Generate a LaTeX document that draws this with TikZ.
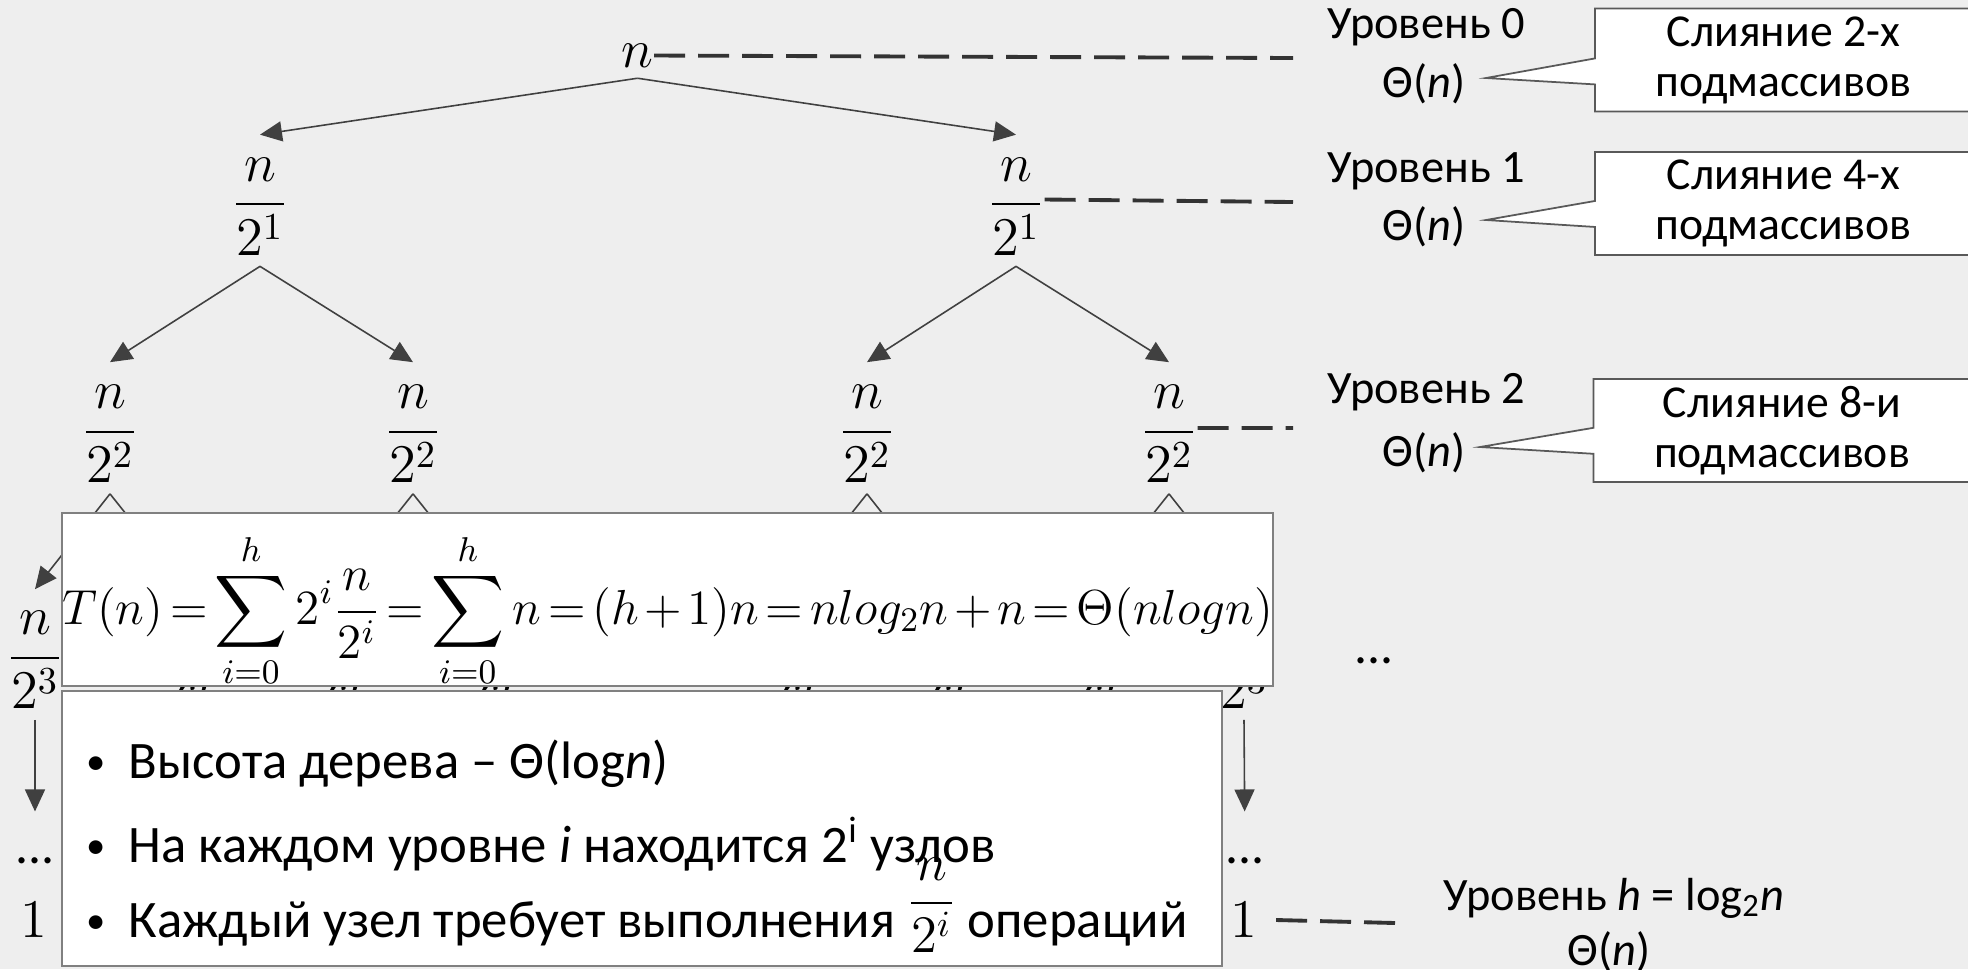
\RequirePackage{fix-cm}
\documentclass[tikz,border=0pt]{standalone}
\usepackage{amsmath}
\usepackage[no-math]{fontspec}
\newfontfamily\cfont{Carlito}
\usetikzlibrary{arrows.meta,positioning,shapes.callouts}
\definecolor{slidebg}{RGB}{238,238,238}
\definecolor{edgegray}{RGB}{64,64,64}
\definecolor{dashgray}{RGB}{51,51,51}
\definecolor{panelgray}{RGB}{128,128,128}
\definecolor{callgray}{RGB}{89,89,89}
\newcommand{\dotmark}{\makebox[0.51cm][l]{\hspace{0.09cm}\raisebox{0.04cm}{\fontsize{11}{11}\selectfont •}}}
\tikzset{
  frac/.style={inner sep=0pt, outer ysep=1.1mm, font=\fontsize{15.5}{18}\selectfont},
  treeedge/.style={-{Triangle[length=2.2mm,width=2mm]}, draw=edgegray, line width=0.45pt},
  levelline/.style={draw=dashgray, line width=1.1pt, dash pattern=on 3.1mm off 1.3mm},
  panel/.style={rectangle, draw=panelgray, fill=white, line width=0.6pt},
  lvl/.style={font=\cfont\fontsize{13.2}{16}\selectfont, inner sep=0pt, anchor=base},
  mergebox/.style={rectangle callout, draw=callgray, fill=white, line width=0.5pt,
                   callout pointer width=2.6mm, minimum width=3.77cm, minimum height=1.03cm,
                   inner ysep=0.3mm, align=center, font=\cfont\fontsize{13}{14.2}\selectfont},
  bullet/.style={font=\cfont\fontsize{15}{18}\selectfont, inner sep=0pt, anchor=base west},
  dotsnode/.style={font=\cfont\fontsize{14.7}{18}\selectfont, inner sep=0pt, anchor=base},
}

\begin{document}
\begin{tikzpicture}
\fill[slidebg] (0,0) rectangle (19.68,-9.69);
\useasboundingbox (0,0) rectangle (19.68,-9.69);

% recursion tree
\node[frac] (root) at (6.375,-0.555) {$n$};
\node[frac] (a1) at (2.60,-2.065) {$\dfrac{n}{2^1}$};
\node[frac] (a2) at (10.16,-2.065) {$\dfrac{n}{2^1}$};
\node[frac] (b1) at (1.10,-4.34) {$\dfrac{n}{2^2}$};
\node[frac] (b2) at (4.13,-4.34) {$\dfrac{n}{2^2}$};
\node[frac] (b3) at (8.67,-4.34) {$\dfrac{n}{2^2}$};
\node[frac] (b4) at (11.69,-4.34) {$\dfrac{n}{2^2}$};
\node[frac] (c1) at (0.35,-6.60) {$\dfrac{n}{2^3}$};
\node[frac] (c2) at (1.86,-6.60) {$\dfrac{n}{2^3}$};
\node[frac] (c3) at (3.37,-6.60) {$\dfrac{n}{2^3}$};
\node[frac] (c4) at (4.89,-6.60) {$\dfrac{n}{2^3}$};
\node[frac] (c5) at (7.91,-6.60) {$\dfrac{n}{2^3}$};
\node[frac] (c6) at (9.42,-6.60) {$\dfrac{n}{2^3}$};
\node[frac] (c7) at (10.93,-6.60) {$\dfrac{n}{2^3}$};
\node[frac] (c8) at (12.44,-6.60) {$\dfrac{n}{2^3}$};
\node[dotsnode] (d1) at (0.35,-8.63) {...};
\node[dotsnode] (d8) at (12.45,-8.63) {...};
\node[frac] (e1) at (0.34,-9.20) {$1$};
\node[frac] (e8) at (12.44,-9.20) {$1$};

\draw[treeedge] (root.south) -- ([yshift=1.2mm]a1.north);
\draw[treeedge] (root.south) -- ([yshift=1.2mm]a2.north);
\draw[treeedge] (a1.south) -- ([yshift=1.2mm]b1.north);
\draw[treeedge] (a1.south) -- ([yshift=1.2mm]b2.north);
\draw[treeedge] (a2.south) -- ([yshift=1.2mm]b3.north);
\draw[treeedge] (a2.south) -- ([yshift=1.2mm]b4.north);
\draw[treeedge] (b1.south) -- ([yshift=1.1mm]c1.north);
\draw[treeedge] (b1.south) -- ([yshift=1.1mm]c2.north);
\draw[treeedge] (b2.south) -- ([yshift=1.1mm]c3.north);
\draw[treeedge] (b2.south) -- ([yshift=1.1mm]c4.north);
\draw[treeedge] (b3.south) -- ([yshift=1.1mm]c5.north);
\draw[treeedge] (b3.south) -- ([yshift=1.1mm]c6.north);
\draw[treeedge] (b4.south) -- ([yshift=1.1mm]c7.north);
\draw[treeedge] (b4.south) -- ([yshift=1.1mm]c8.north);
\draw[treeedge, shorten >=4.5mm] (c1.south) -- (d1.north);
\draw[treeedge, shorten >=4.5mm] (c8.south) -- (d8.north);

% level guides
\coordinate (lvl0end) at (12.93,-0.58);
\coordinate (lvl1end) at (12.93,-2.02);
\coordinate (lvl2end) at (12.93,-4.28);
\coordinate (lvlhend) at (13.95,-9.23);
\draw[levelline] (root.east) -- (lvl0end);
\draw[levelline] ([yshift=0.7mm]a2.east) -- (lvl1end);
\draw[levelline] ([yshift=0.6mm]b4.east) -- (lvl2end);
\draw[levelline] ([xshift=1.8mm]e8.east) -- (lvlhend);

% sum over the levels
\node[panel, minimum width=12.11cm, minimum height=1.73cm] (fpanel) at (6.675,-5.995) {};
\node[inner sep=0pt, font=\fontsize{14}{17}\selectfont] (formula) at ([yshift=-1.1mm]fpanel.center)
  {\thickmuskip=2.5mu \medmuskip=2mu
   $\displaystyle T(n)=\sum_{i=0}^{h}2^{i}\frac{n}{2^{i}}=\sum_{i=0}^{h}n=(h+1)n=nlog_{2}n+n=\Theta(nlogn)$};

\node[panel, minimum width=11.60cm, minimum height=2.75cm] (bpanel) at (6.42,-8.285) {};
\node[bullet] (it1) at (0.77,-7.78) {\dotmark Высота дерева – Θ(log\textit{n})};
\node[bullet] (it2) at (0.77,-8.62) {\dotmark На каждом уровне \textit{i} находится 2\textsuperscript{i} узлов};
\node[bullet] (it3) at (0.77,-9.37) {\dotmark Каждый узел требует выполнения \raisebox{0.21cm}{$\displaystyle\frac{n}{2^{i}}$} операций};

\node[dotsnode] (more) at (13.74,-6.63) {...};

% level costs
\node[lvl] (lv0) at (14.26,-0.38) {Уровень 0};
\node[lvl] (th0) at (14.24,-0.97) {Θ(\textit{n})};
\node[lvl] (lv1) at (14.26,-1.82) {Уровень 1};
\node[lvl] (th1) at (14.24,-2.40) {Θ(\textit{n})};
\node[lvl] (lv2) at (14.26,-4.03) {Уровень 2};
\node[lvl] (th2) at (14.24,-4.66) {Θ(\textit{n})};
\node[lvl] (lvh) at (16.14,-9.10) {Уровень \textit{h} = log\textsubscript{2}\textit{n}};
\node[lvl] (thh) at (16.09,-9.65) {Θ(\textit{n})};

\coordinate (tip0) at (14.86,-0.78);
\coordinate (tip1) at (14.86,-2.20);
\coordinate (tip2) at (14.80,-4.47);
\node[mergebox, callout absolute pointer={(tip0)}] (m0) at (17.835,-0.60) {Слияние 2-х\\подмассивов};
\node[mergebox, callout absolute pointer={(tip1)}] (m1) at (17.835,-2.035) {Слияние 4-х\\подмассивов};
\node[mergebox, callout absolute pointer={(tip2)}] (m2) at (17.82,-4.305) {Слияние 8-и\\подмассивов};
\end{tikzpicture}
\end{document}
